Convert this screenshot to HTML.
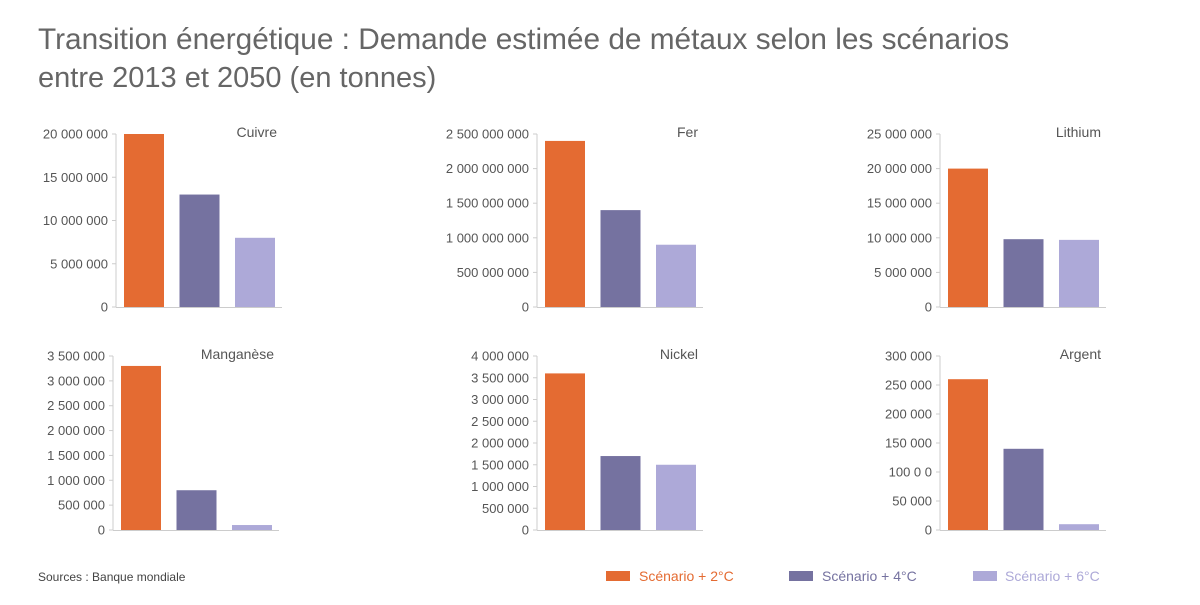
<!DOCTYPE html>
<html><head><meta charset="utf-8"><style>
body{margin:0;background:#fff;width:1200px;height:600px;overflow:hidden}
svg{font-family:"Liberation Sans",sans-serif}
</style></head><body>
<svg id="s" width="1200" height="600" xmlns="http://www.w3.org/2000/svg">
<text x="38" y="49" font-size="29.8" fill="#666">Transition énergétique : Demande estimée de métaux selon les scénarios</text>
<text x="38" y="87" font-size="29" fill="#666">entre 2013 et 2050 (en tonnes)</text>
<text x="38" y="581" font-size="12" fill="#444">Sources : Banque mondiale</text>
<rect x="606" y="571" width="24" height="10" fill="#E46B32"/><text x="639" y="581" font-size="14" fill="#E46B32">Scénario + 2°C</text>
<rect x="789" y="571" width="24" height="10" fill="#7572A0"/><text x="822" y="581" font-size="14" fill="#7572A0">Scénario + 4°C</text>
<rect x="973" y="571" width="24" height="10" fill="#ADA9D8"/><text x="1005" y="581" font-size="14" fill="#ADA9D8">Scénario + 6°C</text>
</svg>
<script>
const P=[
{ax:116,top:134,bot:307,name:"Cuivre",max:20e6,ticks:["0","5 000 000","10 000 000","15 000 000","20 000 000"],v:[20e6,13e6,8e6]},
{ax:537,top:134,bot:307,name:"Fer",max:2.5e9,ticks:["0","500 000 000","1 000 000 000","1 500 000 000","2 000 000 000","2 500 000 000"],v:[2.4e9,1.4e9,0.9e9]},
{ax:940,top:134,bot:307,name:"Lithium",max:25e6,ticks:["0","5 000 000","10 000 000","15 000 000","20 000 000","25 000 000"],v:[20e6,9.8e6,9.7e6]},
{ax:113,top:356,bot:530,name:"Manganèse",max:3.5e6,ticks:["0","500 000","1 000 000","1 500 000","2 000 000","2 500 000","3 000 000","3 500 000"],v:[3.3e6,0.8e6,0.1e6]},
{ax:537,top:356,bot:530,name:"Nickel",max:4e6,ticks:["0","500 000","1 000 000","1 500 000","2 000 000","2 500 000","3 000 000","3 500 000","4 000 000"],v:[3.6e6,1.7e6,1.5e6]},
{ax:940,top:356,bot:530,name:"Argent",max:3e5,ticks:["0","50 000","100 0 0","150 000","200 000","250 000","300 000"],v:[2.6e5,1.4e5,1e4]}];
const C=["#E46B32","#7572A0","#ADA9D8"];
let h="";
for(const p of P){
 const H=p.bot-p.top,n=p.ticks.length-1,end=p.ax+166;
 p.ticks.forEach((t,i)=>{const y=p.bot-H*i/n;
  h+=`<text x="${p.ax-8}" y="${y+4.5}" font-size="13" fill="#555" text-anchor="end">${t}</text><line x1="${p.ax-4}" x2="${p.ax}" y1="${y}" y2="${y}" stroke="#ccc"/>`;});
 h+=`<line x1="${p.ax}" x2="${p.ax}" y1="${p.top}" y2="${p.bot}" stroke="#ccc"/><line x1="${p.ax}" x2="${end}" y1="${p.bot+0.5}" y2="${p.bot+0.5}" stroke="#ccc"/>`;
 h+=`<text x="${end-5}" y="${p.top+3}" font-size="14" fill="#555" text-anchor="end">${p.name}</text>`;
 p.v.forEach((v,i)=>{const bh=H*v/p.max,x=p.ax+8+i*55.5;
  h+=`<rect x="${x}" y="${p.bot-bh}" width="40" height="${bh}" fill="${C[i]}"/>`;});
}
document.getElementById("s").insertAdjacentHTML("beforeend",h);
</script>
</body></html>
